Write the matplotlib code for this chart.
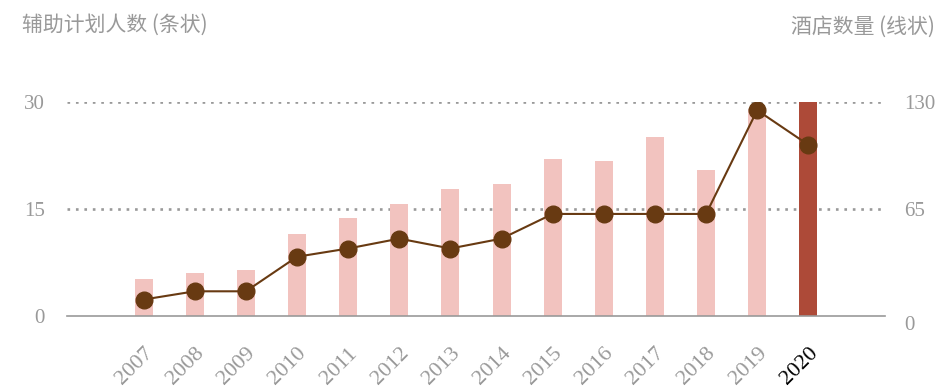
import matplotlib
matplotlib.use("Agg")
import matplotlib.pyplot as plt
import numpy as np

years = ["2007", "2008", "2009", "2010", "2011", "2012", "2013",
         "2014", "2015", "2016", "2017", "2018", "2019", "2020"]
# bars: left axis
helpers = [5.2, 6.0, 6.4, 11.5, 13.7, 15.7, 17.8, 18.5, 22.0, 21.7, 25.1, 20.5, 29.0, 30.0]
# line: right axis
hotels = [10, 15, 15, 36, 41, 47, 41, 47, 62, 62, 62, 62, 125, 104]

left_ticks = [0, 15, 30]
right_ticks = [0, 65, 130]

PINK = "#f2c3bf"
RED = "#ad4a38"
BROWN = "#683a12"
GREY = "#999999"

plt.rcParams["font.family"] = ["Liberation Serif", "DejaVu Serif"]
cjk = ["Noto Sans CJK SC", "DejaVu Sans"]

fig = plt.figure(figsize=(9.37, 3.87), dpi=100)
ax = fig.add_axes([0.0715, 0.1835, 0.873, 0.5529])
ax2 = ax.twinx()

x = np.arange(len(years))
colors = [PINK] * (len(years) - 1) + [RED]
ax.bar(x, helpers, width=0.35, color=colors, zorder=2)

ax2.plot(x, hotels, color=BROWN, lw=1.5, marker="o", ms=12, zorder=3)

ax.set_xlim(-1.5, len(years) + 0.5)
ax.set_ylim(0, 30)
ax2.set_ylim(0, 130)

for y in left_ticks[1:]:
    ax.axhline(y, color=GREY, lw=1.9, ls=(0, (1, 2.2)), zorder=1)

for a in (ax, ax2):
    for s in a.spines.values():
        s.set_visible(False)
ax.spines["bottom"].set_visible(True)
ax.spines["bottom"].set_color(GREY)
ax.spines["bottom"].set_linewidth(1.2)

ax.set_yticks(left_ticks)
ax.set_yticklabels([str(t) for t in left_ticks])
ax2.set_yticks(right_ticks)
ax2.set_yticklabels([str(t) for t in right_ticks])
ax.tick_params(axis="y", length=0, pad=16, labelsize=15, labelcolor=GREY)
ax2.tick_params(axis="y", length=0, pad=14, labelsize=15, labelcolor=GREY)
for lbl in ax2.get_yticklabels():
    if lbl.get_text() == "0":
        lbl.set_va("top")

ax.set_xticks(x)
ax.set_xticklabels(years, rotation=45, ha="right", rotation_mode="anchor")
ax.tick_params(axis="x", length=0, pad=20, labelsize=16, labelcolor=GREY)
ax.get_xticklabels()[-1].set_color("black")

ax.set_zorder(ax2.get_zorder() - 1)
ax.patch.set_visible(False)

fig.text(22 / 937, 1 - 25 / 387, "辅助计划人数 (条状)", family=cjk,
         fontsize=15, color=GREY, ha="left", va="center")
fig.text(935 / 937, 1 - 27 / 387, "酒店数量 (线状)", family=cjk,
         fontsize=15, color=GREY, ha="right", va="center")

fig.savefig("out.png", dpi=100)
